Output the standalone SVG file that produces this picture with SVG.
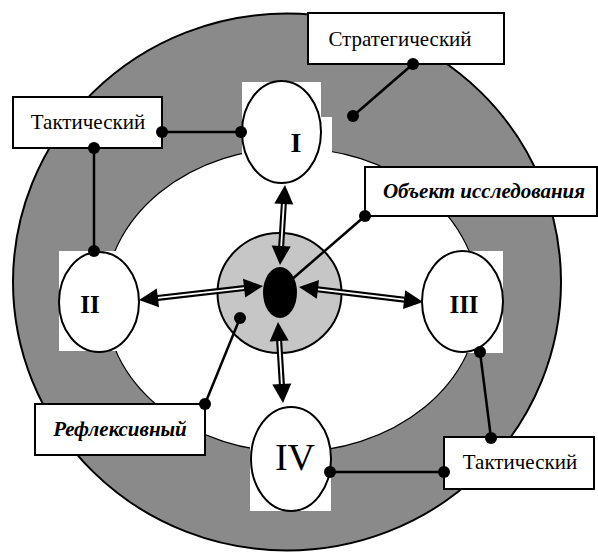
<svg xmlns="http://www.w3.org/2000/svg" width="598" height="556" viewBox="0 0 598 556">
<style>
.node{fill:#fff;stroke:#000;stroke-width:2}
.box{fill:#fff;stroke:#000;stroke-width:2}
.num{font-family:"Liberation Serif",serif;font-weight:bold;text-anchor:middle}
.lbl{font-family:"Liberation Serif",serif;font-size:21px;text-anchor:middle}
.lbi{font-family:"Liberation Serif",serif;font-size:21px;font-weight:bold;font-style:italic;text-anchor:middle}
.con{stroke:#000;stroke-width:2.5;fill:none}
.dot{fill:#000}
.shaft{stroke:#000;stroke-width:6}
.gap{stroke:#fff;stroke-width:1.8}
.head{fill:#000}
</style>
<rect width="598" height="556" fill="#fff"/>
<g id="background">
<ellipse cx="287" cy="282" rx="274" ry="268.5" fill="#8a8a8a" stroke="#000" stroke-width="2"/>
<ellipse cx="292" cy="300" rx="187" ry="152" fill="#fff" stroke="#000" stroke-width="1.2"/>
<rect x="242" y="82" width="79" height="101" fill="#fff"/>
<rect x="318" y="117" width="14" height="45" fill="#fff"/>
<rect x="59" y="251" width="80" height="100" fill="#fff"/>
<rect x="422" y="251" width="81" height="102" fill="#fff"/>
<rect x="250" y="407" width="81" height="104" fill="#fff"/>
</g>
<g id="node-I">
<ellipse class="node" cx="281.5" cy="132" rx="39.5" ry="51"/>
<text class="num" x="296" y="152" font-size="28">I</text>
</g>
<g id="node-II">
<ellipse class="node" cx="99" cy="302" rx="40" ry="50"/>
<text class="num" x="90" y="313" font-size="25">II</text>
</g>
<g id="node-III">
<ellipse class="node" cx="462.5" cy="301.5" rx="40.5" ry="50.5"/>
<text class="num" x="464" y="313" font-size="25">III</text>
</g>
<g id="node-IV">
<ellipse class="node" cx="291" cy="459" rx="40" ry="52"/>
<text x="295" y="470" font-family="Liberation Serif, serif" font-size="38" text-anchor="middle">IV</text>
</g>
<g id="center">
<ellipse cx="279.5" cy="293" rx="62" ry="60" fill="#c6c6c6" stroke="#000" stroke-width="2"/>
<ellipse cx="280" cy="292.5" rx="17" ry="25.5" fill="#000"/>
</g>
<g id="connectors">
<line class="shaft" x1="280.6" y1="255" x2="284.4" y2="195"/>
<line class="gap" x1="281.2" y1="246" x2="283.8" y2="204"/>
<polygon class="head" points="285,185 293.3,204.6 274.3,203.4"/>
<polygon class="head" points="280,265 290.7,246.6 271.7,245.4"/>
<line class="shaft" x1="253.1" y1="287.1" x2="148.9" y2="298.9"/>
<line class="gap" x1="244.1" y1="288.1" x2="157.9" y2="297.9"/>
<polygon class="head" points="139,300 156.8,288.4 159,307.3"/>
<polygon class="head" points="263,286 243,278.7 245.2,297.6"/>
<line class="shaft" x1="308.9" y1="288.2" x2="413.1" y2="300.8"/>
<line class="gap" x1="317.9" y1="289.3" x2="404.1" y2="299.7"/>
<polygon class="head" points="423,302 405.3,290.3 403,309.1"/>
<polygon class="head" points="299,287 319,279.9 316.8,298.7"/>
<line class="shaft" x1="278.6" y1="332" x2="282.4" y2="393"/>
<line class="gap" x1="279.2" y1="341" x2="281.8" y2="384"/>
<polygon class="head" points="283,403 291.3,383.5 272.3,384.6"/>
<polygon class="head" points="278,322 288.7,340.4 269.7,341.5"/>
<line class="con" x1="413" y1="64" x2="353" y2="116"/>
<line class="con" x1="162" y1="132" x2="241" y2="132"/>
<line class="con" x1="94" y1="148" x2="94" y2="251"/>
<line class="con" x1="365" y1="216" x2="290" y2="281"/>
<line class="con" x1="240" y1="318" x2="205" y2="404"/>
<line class="con" x1="480" y1="352" x2="491" y2="438"/>
<line class="con" x1="330" y1="472" x2="444" y2="472"/>
</g>
<g id="label-strategic">
<rect class="box" x="308" y="13" width="196" height="51"/>
<text class="lbl" x="400" y="46">Стратегический</text>
</g>
<g id="label-tactical-1">
<rect class="box" x="13" y="97" width="149" height="51"/>
<text class="lbl" x="88" y="129">Тактический</text>
</g>
<g id="label-object">
<rect class="box" x="365" y="167" width="232" height="49"/>
<text class="lbi" x="484" y="198">Объект исследования</text>
</g>
<g id="label-reflexive">
<rect class="box" x="35" y="404" width="170" height="51"/>
<text class="lbi" x="120" y="436">Рефлексивный</text>
</g>
<g id="label-tactical-2">
<rect class="box" x="444" y="437" width="150" height="52"/>
<text class="lbl" x="520" y="469">Тактический</text>
</g>
<g id="dots">
<circle class="dot" cx="413" cy="64" r="6"/>
<circle class="dot" cx="353" cy="116" r="6"/>
<circle class="dot" cx="162" cy="132" r="6"/>
<circle class="dot" cx="241" cy="132" r="6"/>
<circle class="dot" cx="94" cy="148" r="6"/>
<circle class="dot" cx="94" cy="251" r="6"/>
<circle class="dot" cx="365" cy="216" r="6"/>
<circle class="dot" cx="240" cy="318" r="6"/>
<circle class="dot" cx="205" cy="404" r="6"/>
<circle class="dot" cx="480" cy="352" r="6"/>
<circle class="dot" cx="491" cy="438" r="6"/>
<circle class="dot" cx="330" cy="472" r="6"/>
<circle class="dot" cx="444" cy="472" r="6"/>
</g>
</svg>
